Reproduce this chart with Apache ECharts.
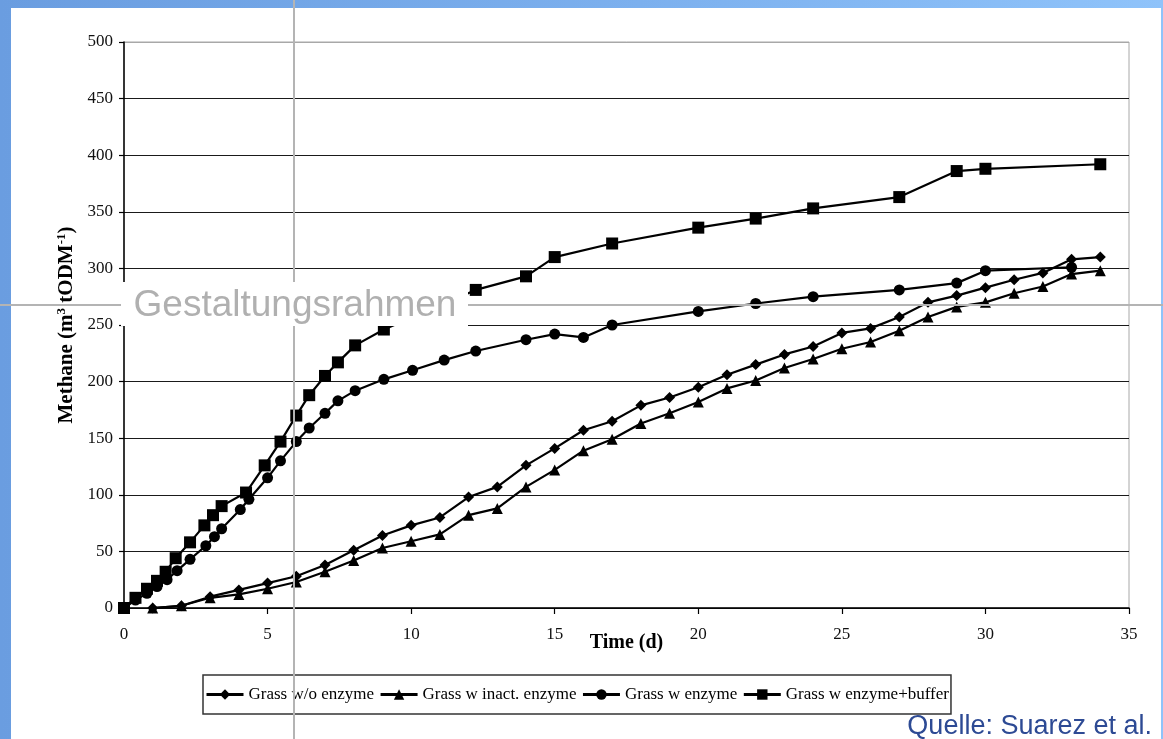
<!DOCTYPE html>
<html><head><meta charset="utf-8">
<script src="https://cdn.jsdelivr.net/npm/echarts@6/dist/echarts.min.js"></script>
<style>
html,body{margin:0;padding:0;width:1163px;height:739px;overflow:hidden;}
body{background:linear-gradient(to right,#6a9de0 0%,#7cb0ee 55%,#8fc3fa 100%);position:relative;}
#panel{position:absolute;left:11px;top:8px;width:1150px;height:731px;background:#fff;}
#chart{position:absolute;left:0;top:0;width:1163px;height:739px;}
</style></head><body>
<div id="panel"></div><div id="chart"></div>
<script>
const seriesNames = ['Grass w/o enzyme', 'Grass w inact. enzyme', 'Grass w enzyme', 'Grass w enzyme+buffer'];
const dayTimes = [1,2,3,4,5,6,7,8,9,10,11,12,13,14,15,16,17,18,19,20,21,22,23,24,25,26,27,28,29,30,31,32,33,34];
const woEnzyme = [0,2,10,16,22,28,38,51,64,73,80,98,107,126,141,157,165,179,186,195,206,215,224,231,243,247,257,270,276,283,290,296,308,310];
const inactEnzyme = [0,2,9,12,17,23,32,42,53,59,65,82,88,107,122,139,149,163,172,182,194,201,212,220,229,235,245,257,266,270,278,284,295,298];
const enzymeTimes = [0,0.4,0.8,1.15,1.5,1.85,2.3,2.85,3.15,3.4,4.05,4.35,5.0,5.45,6.0,6.45,7.0,7.45,8.05,9.05,10.05,11.15,12.25,14,15,16,17,20,22,24,27,29,30,33];
const enzymeValues = [0,7,13,19,25,33,43,55,63,70,87,96,115,130,147,159,172,183,192,202,210,219,227,237,242,239,250,262,269,275,281,287,298,301];
const bufferTimes = [0,0.4,0.8,1.15,1.45,1.8,2.3,2.8,3.1,3.4,4.25,4.9,5.45,6.0,6.45,7.0,7.45,8.05,9.05,12.25,14,15,17,20,22,24,27,29,30,34];
const bufferValues = [0,9,17,24,32,44,58,73,82,90,102,126,147,170,188,205,217,232,246,281,293,310,322,336,344,353,363,386,388,392];
const xAxisRange = [0, 35, 5];
const yAxisRange = [0, 500, 50];
const xTitle = 'Time (d)';
const overlayLabel = 'Gestaltungsrahmen';
const sourceLabel = 'Quelle: Suarez et al.';

const pair = (xs, ys) => xs.map((x, i) => [x, ys[i]]);
const serif = '"Liberation Serif","Times New Roman",serif';
const sans = '"Liberation Sans",Arial,sans-serif';

const mk = (name, data, symbol, size) => ({
  name, type: 'line', data, symbol, symbolSize: size, showSymbol: true,
  lineStyle: { color: '#000', width: 2.2 }, itemStyle: { color: '#000' },
  emphasis: { disabled: true }, z: 3
});

const chart = echarts.init(document.getElementById('chart'), null, { renderer: 'canvas' });
const splitColors = Array.from({ length: 11 }, (_, i) => i === 10 ? '#a8a8a8' : '#1a1a1a');
chart.setOption({
  backgroundColor: 'transparent',
  animation: false,
  grid: { left: 124, right: 34, top: 42, bottom: 131, show: true, borderColor: '#a8a8a8', borderWidth: 1, backgroundColor: 'transparent' },
  xAxis: {
    type: 'value', min: xAxisRange[0], max: xAxisRange[1], interval: xAxisRange[2],
    name: xTitle, nameLocation: 'middle', nameGap: 25, nameMoveOverlap: false,
    nameTextStyle: { fontFamily: serif, fontSize: 20, fontWeight: 'bold', color: '#000', verticalAlign: 'top' },
    axisLine: { show: true, lineStyle: { color: '#000', width: 1.5 } },
    axisTick: { show: true, inside: false, length: 6, lineStyle: { color: '#000', width: 1.2 } },
    axisLabel: { fontFamily: serif, fontSize: 17, color: '#111', margin: 18 },
    splitLine: { show: false }
  },
  yAxis: {
    type: 'value', min: yAxisRange[0], max: yAxisRange[1], interval: yAxisRange[2],
    name: '{a|Methane (m}{s|3}{a| tODM}{s|-1}{a|)}', nameLocation: 'middle', nameGap: 47, nameRotate: 90,
    nameTextStyle: {
      rich: {
        a: { fontFamily: serif, fontSize: 21, fontWeight: 'bold', color: '#000' },
        s: { fontFamily: serif, fontSize: 13, fontWeight: 'bold', color: '#000', verticalAlign: 'top' }
      }
    },
    axisLine: { show: true, lineStyle: { color: '#000', width: 1.5 } },
    axisTick: { show: true, inside: false, length: 5, lineStyle: { color: '#000', width: 1.2 } },
    axisLabel: { fontFamily: serif, fontSize: 17, color: '#111', margin: 11 },
    splitLine: { show: true, lineStyle: { color: splitColors, width: 1.2 } }
  },
  legend: {
    data: seriesNames, left: 203, top: 675, orient: 'horizontal',
    itemWidth: 37, itemHeight: 13, itemGap: 5, padding: [11, 2, 11, 2],
    borderColor: '#333', borderWidth: 1.5, backgroundColor: '#fff',
    lineStyle: { width: 3, color: '#000' },
    textStyle: { fontFamily: serif, fontSize: 17, color: '#000' },
    selectedMode: false
  },
  series: [
    mk(seriesNames[0], pair(dayTimes, woEnzyme), 'diamond', 11),
    mk(seriesNames[1], pair(dayTimes, inactEnzyme), 'triangle', 11),
    mk(seriesNames[2], pair(enzymeTimes, enzymeValues), 'circle', 11),
    mk(seriesNames[3], pair(bufferTimes, bufferValues), 'rect', 12)
  ],
  graphic: [
    { type: 'line', z: 100, shape: { x1: 294, y1: 0, x2: 294, y2: 739 }, style: { stroke: '#b4b4b4', lineWidth: 2 } },
    { type: 'line', z: 100, shape: { x1: 0, y1: 305, x2: 1163, y2: 305 }, style: { stroke: '#b4b4b4', lineWidth: 2 } },
    { type: 'rect', z: 110, shape: { x: 121, y: 282, width: 347, height: 44 }, style: { fill: '#fff' } },
    { type: 'text', z: 111, x: 295, y: 306, style: { text: overlayLabel, fill: '#b0b0b0', font: '37px ' + sans, align: 'center', verticalAlign: 'middle' } },
    { type: 'text', z: 111, x: 1152, y: 727, style: { text: sourceLabel, fill: '#2d4a94', font: '27px ' + sans, align: 'right', verticalAlign: 'middle' } }
  ]
});
</script>
</body></html>
